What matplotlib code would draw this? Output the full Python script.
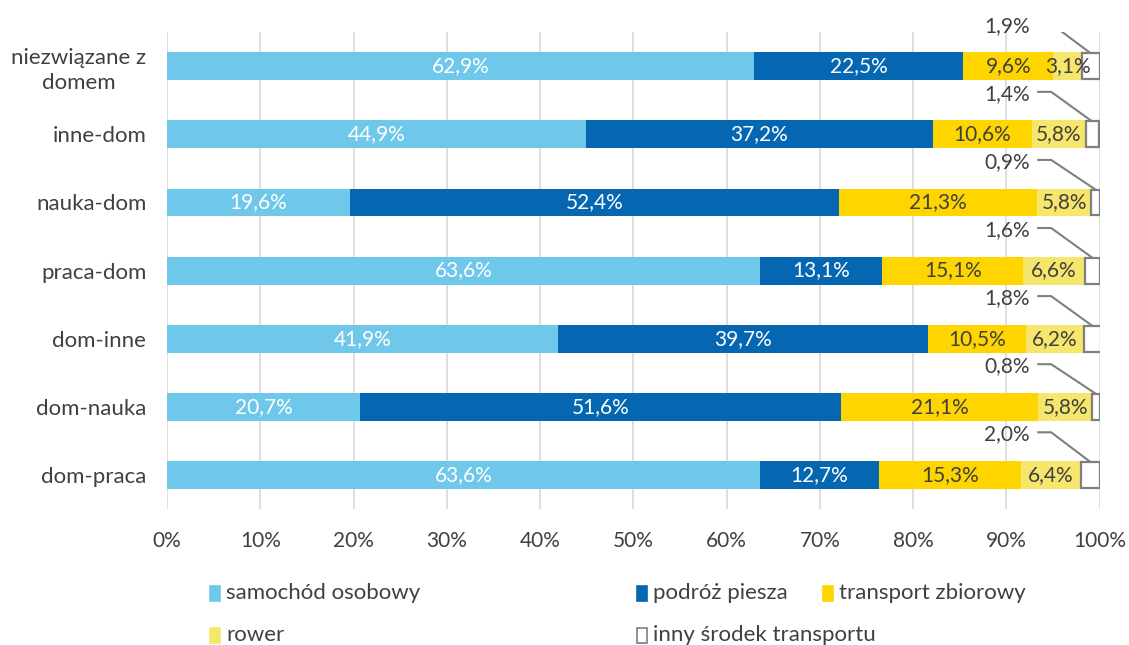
import matplotlib
matplotlib.use("Agg")
import matplotlib.pyplot as plt
from matplotlib.patches import Rectangle
import numpy as np

plt.rcParams['font.family'] = ['Lato', 'DejaVu Sans']

categories = ["niezwiązane z\ndomem", "inne-dom", "nauka-dom", "praca-dom",
              "dom-inne", "dom-nauka", "dom-praca"]
series_names = ["samochód osobowy", "podróż piesza", "transport zbiorowy",
                "rower", "inny środek transportu"]
samochod = [62.9, 44.9, 19.6, 63.6, 41.9, 20.7, 63.6]
piesza = [22.5, 37.2, 52.4, 13.1, 39.7, 51.6, 12.7]
zbiorowy = [9.6, 10.6, 21.3, 15.1, 10.5, 21.1, 15.3]
rower = [3.1, 5.8, 5.8, 6.6, 6.2, 5.8, 6.4]
inny = [1.9, 1.4, 0.9, 1.6, 1.8, 0.8, 2.0]
xticks = [0, 10, 20, 30, 40, 50, 60, 70, 80, 90, 100]

colors = ["#6FC8E9", "#0567B2", "#FFD500", "#F6E66C", "#FFFFFF"]
label_colors = ["white", "white", "#404040", "#404040", "#404040"]
txt = "#404040"

fig = plt.figure(figsize=(11.29, 6.45), dpi=100)
ax = fig.add_axes([0.148, 0.211, 0.826, 0.739])

values = [samochod, piesza, zbiorowy, rower, inny]
y = np.arange(len(categories))
bar_h = 0.41
left = np.zeros(len(categories))
for i, vals in enumerate(values):
    vals = np.array(vals)
    if i < 4:
        ax.barh(y, vals, left=left, height=bar_h, color=colors[i],
                edgecolor="none", zorder=3)
        for yi, l, v in zip(y, left, vals):
            ax.text(l + v / 2, yi, f"{v:.1f}%".replace(".", ","),
                    ha="center", va="center", fontsize=15,
                    color=label_colors[i], zorder=5)
    else:
        ax.barh(y, vals, left=left, height=bar_h - 0.03, color=colors[i],
                edgecolor="#7F7F7F", linewidth=1.6, zorder=4)
        for yi, l, v in zip(y, left, vals):
            cx = l + v / 2
            top = yi - (bar_h - 0.03) / 2
            ly = yi - 0.625
            ax.plot([93.3, 94.8, cx], [ly, ly, top], color="#7F7F7F",
                    lw=1.5, zorder=5, solid_capstyle="butt")
            ax.text(92.5, ly + 0.03, f"{v:.1f}%".replace(".", ","), ha="right",
                    va="center", fontsize=15, color=txt, zorder=5)
    left = left + vals

ax.set_xlim(0, 100)
ax.set_ylim(len(categories) - 0.5, -0.5)
ax.set_xticks(xticks)
ax.set_xticklabels([f"{t}%" for t in xticks])
ax.set_yticks(y)
ax.set_yticklabels(categories)
ax.tick_params(axis="both", length=0, colors=txt)
ax.tick_params(axis="x", pad=16, labelsize=15)
ax.tick_params(axis="y", pad=15, labelsize=16)
for lab in ax.get_yticklabels():
    lab.set_multialignment("center")
    lab.set_linespacing(1.3)
ax.grid(axis="x", color="#D9D9D9", lw=1.2, zorder=0)
for s in ax.spines.values():
    s.set_visible(False)

# legend drawn as figure-level swatches and labels
leg_pos = [(215, 593), (642, 593), (828, 593), (215, 635), (642, 635)]
W, H = 1129, 645
for name, c, (px, py) in zip(series_names, colors, leg_pos):
    ec = "#7F7F7F" if c == "#FFFFFF" else c
    fig.patches.append(Rectangle(((px - 5) / W, 1 - (py + 8) / H), 10 / W, 15 / H,
                                 transform=fig.transFigure, facecolor=c,
                                 edgecolor=ec, lw=1.2))
    fig.text((px + 11) / W, 1 - py / H, name, ha="left", va="center",
             fontsize=16, color=txt)

fig.savefig("out.png", dpi=100, facecolor="white")
